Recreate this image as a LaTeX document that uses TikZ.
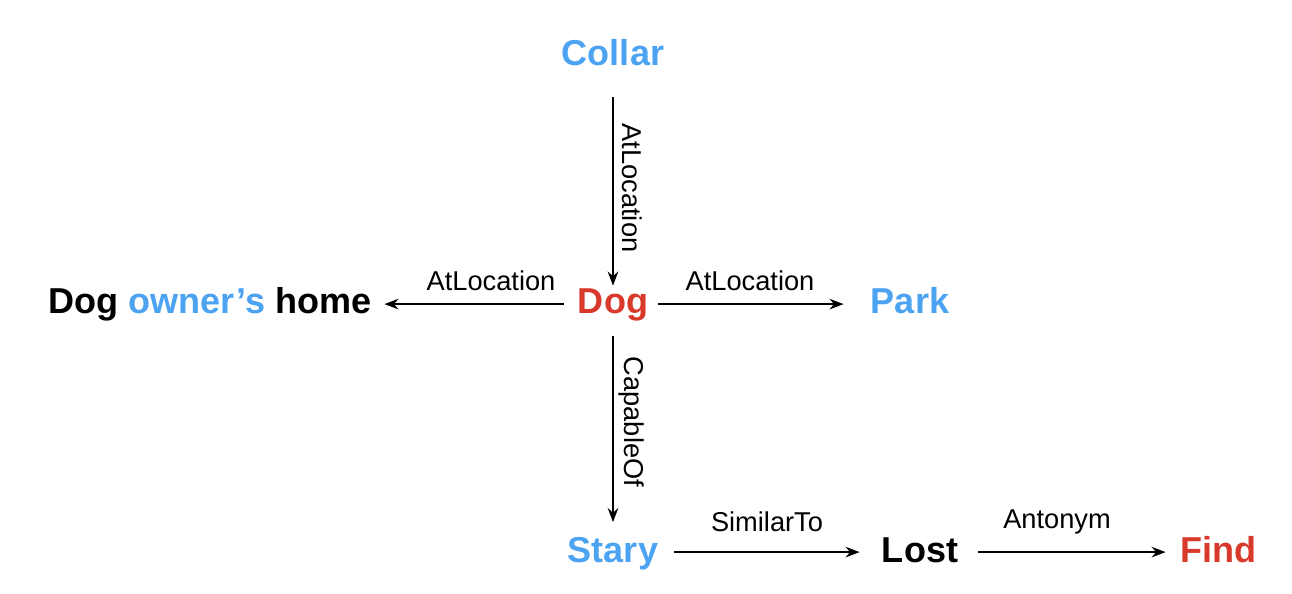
\documentclass[tikz,border=0pt]{standalone}
\usepackage{fontspec}
\setmainfont{Liberation Sans}
\usetikzlibrary{arrows.meta}
\definecolor{cblue}{HTML}{4BA3F2}
\definecolor{cred}{HTML}{D9392B}
\begin{document}
\begin{tikzpicture}[x=0.02cm,y=-0.02cm,
  concept/.style={inner sep=0pt,anchor=base,font=\fontsize{20.5}{22}\selectfont\bfseries,text height=0.55cm,text depth=0.154cm},
  rel/.style={-{Stealth[length=8pt,width=6pt]},line width=1.1pt},
  lab/.style={font=\fontsize{15.5}{17}\selectfont,inner sep=0pt}]
\useasboundingbox (0,0) rectangle (1292,594);
\node[concept,text=cblue] (collar) at (613,66) {Collar};
\node[concept,text=cred] (dog) at (613,314) {Dog};
\node[concept] (home) at (210,314) {Dog \textcolor{cblue}{owner’s} home};
\node[concept,text=cblue] (park) at (910,314) {Park};
\node[concept,text=cblue] (stary) at (613,562) {Stary};
\node[concept] (lost) at (920,562) {Lost};
\node[concept,text=cred] (find) at (1218,562) {Find};
\draw[rel,shorten <=0.46cm,shorten >=0.01cm] (collar.south) -- (dog.north);
\draw[rel,shorten <=0.28cm,shorten >=0.26cm] (dog.west) -- (home.east);
\draw[rel,shorten <=0.2cm,shorten >=0.54cm] (dog.east) -- (park.west);
\draw[rel,shorten <=0.28cm,shorten >=0.24cm] (dog.south) -- (stary.north);
\draw[rel,shorten <=0.32cm,shorten >=0.44cm] (stary.east) -- (lost.west);
\draw[rel,shorten <=0.4cm,shorten >=0.28cm] (lost.east) -- (find.west);
\node[lab,rotate=-90] (l1) at (632,188) {AtLocation};
\node[lab] (l2) at (491,281) {AtLocation};
\node[lab] (l3) at (750,281) {AtLocation};
\node[lab,rotate=-90] (l4) at (632,422) {CapableOf};
\node[lab] (l5) at (767,522) {SimilarTo};
\node[lab] (l6) at (1057,522) {Antonym};
\end{tikzpicture}
\end{document}
